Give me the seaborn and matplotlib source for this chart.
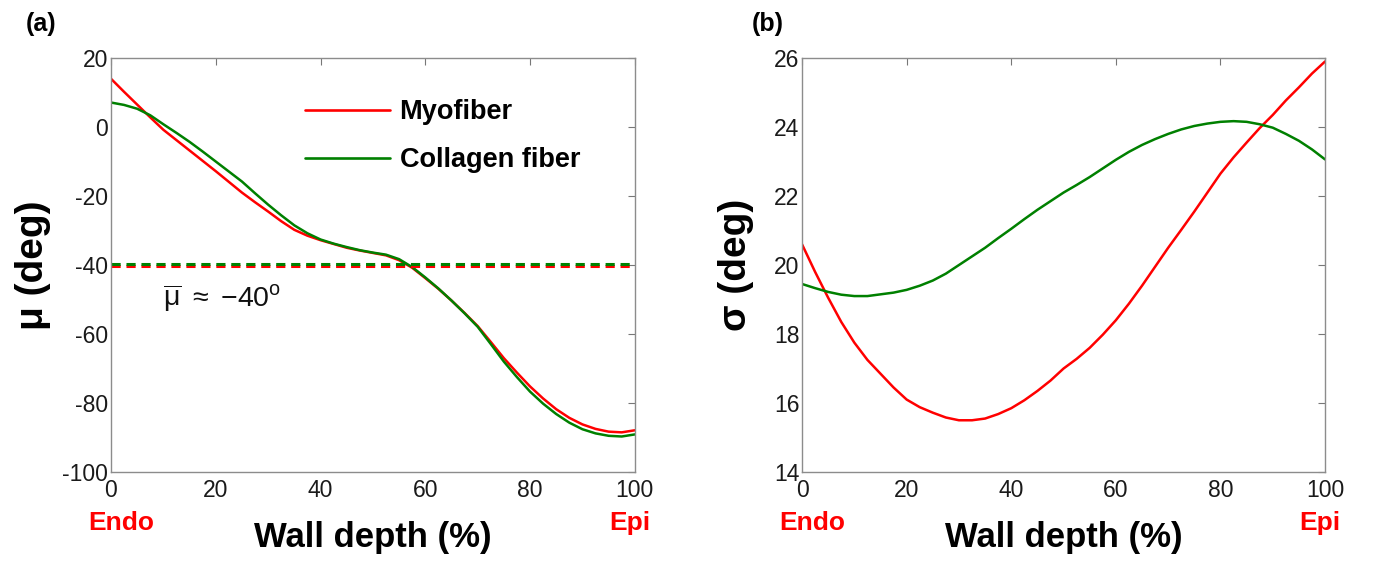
import numpy as np
import pandas as pd
import seaborn as sns
import matplotlib
matplotlib.use("Agg")
import matplotlib.pyplot as plt

# Wall depth (%) from endocardium (0) to epicardium (100)
depth = [0, 2.5, 5, 7.5, 10, 12.5, 15, 17.5, 20, 22.5, 25, 27.5, 30, 32.5, 35, 37.5, 40, 42.5, 45, 47.5,
         50, 52.5, 55, 57.5, 60, 62.5, 65, 67.5, 70, 72.5, 75, 77.5, 80, 82.5, 85, 87.5, 90, 92.5, 95,
         97.5, 100]

# Mean fiber angle mu (deg)
mu_myofiber = [14.0, 10.2, 6.5, 2.8, -0.8, -3.8, -6.8, -9.8, -12.8, -15.9, -19.0, -21.8, -24.5, -27.3,
               -29.8, -31.5, -32.8, -33.9, -35.0, -35.8, -36.5, -37.2, -38.6, -40.8, -43.8, -46.9, -50.3,
               -53.9, -57.7, -62.3, -67.0, -71.2, -75.2, -78.7, -81.8, -84.3, -86.2, -87.5, -88.3, -88.5,
               -87.9]
mu_collagen = [7.1, 6.4, 5.3, 3.4, 0.8, -1.7, -4.3, -7.1, -10.0, -12.9, -15.8, -19.2, -22.5, -25.6, -28.5,
               -30.8, -32.6, -33.8, -34.8, -35.7, -36.4, -37.0, -38.3, -40.6, -43.6, -46.8, -50.3, -54.0,
               -57.9, -62.9, -68.0, -72.5, -76.7, -80.2, -83.2, -85.7, -87.6, -88.8, -89.5, -89.7, -89.1]

# Dispersion sigma (deg)
sigma_myofiber = [20.6, 19.8, 19.05, 18.35, 17.75, 17.25, 16.85, 16.45, 16.1, 15.88, 15.72, 15.58, 15.5,
                  15.5, 15.55, 15.68, 15.85, 16.08, 16.35, 16.65, 17.0, 17.28, 17.6, 17.98, 18.4, 18.88,
                  19.4, 19.95, 20.5, 21.02, 21.55, 22.1, 22.65, 23.12, 23.55, 23.97, 24.35, 24.77, 25.15,
                  25.55, 25.9]
sigma_collagen = [19.45, 19.33, 19.22, 19.14, 19.1, 19.1, 19.15, 19.2, 19.28, 19.4, 19.55, 19.75, 20.0,
                  20.25, 20.5, 20.78, 21.05, 21.33, 21.6, 21.85, 22.1, 22.32, 22.55, 22.8, 23.05, 23.28,
                  23.48, 23.65, 23.8, 23.93, 24.03, 24.1, 24.15, 24.17, 24.15, 24.08, 23.98, 23.8, 23.6,
                  23.35, 23.06]

# Transmural averages of mu
mu_mean_myofiber = -40.3
mu_mean_collagen = -39.7

series_names = ["Myofiber", "Collagen fiber"]
palette = {"Myofiber": "#ff0000", "Collagen fiber": "#008000"}
n = len(depth)

mu_df = pd.DataFrame({
    "depth": depth * 2,
    "value": mu_myofiber + mu_collagen,
    "fiber": [series_names[0]] * n + [series_names[1]] * n,
})
sigma_df = pd.DataFrame({
    "depth": depth * 2,
    "value": sigma_myofiber + sigma_collagen,
    "fiber": [series_names[0]] * n + [series_names[1]] * n,
})

sns.set_theme(style="white")
plt.rcParams["font.family"] = ["Liberation Sans", "DejaVu Sans"]
plt.rcParams["mathtext.fontset"] = "custom"
plt.rcParams["mathtext.rm"] = "Liberation Sans"
plt.rcParams["mathtext.it"] = "Liberation Sans:italic"
plt.rcParams["axes.unicode_minus"] = False
plt.rcParams["text.color"] = "black"
plt.rcParams["axes.labelcolor"] = "black"

fig = plt.figure(figsize=(13.75, 5.61), dpi=100)
ax1 = fig.add_axes([0.0807, 0.1586, 0.381, 0.738])
ax2 = fig.add_axes([0.5833, 0.1586, 0.3804, 0.738])

sns.lineplot(data=mu_df, x="depth", y="value", hue="fiber", palette=palette,
             linewidth=1.8, ax=ax1, sort=True)
sns.lineplot(data=sigma_df, x="depth", y="value", hue="fiber", palette=palette,
             linewidth=1.8, ax=ax2, sort=True, legend=False)

ax1.axhline(mu_mean_myofiber, color=palette["Myofiber"], lw=2.2, ls=(0, (3.0, 1.9)))
ax1.axhline(mu_mean_collagen, color=palette["Collagen fiber"], lw=2.2, ls=(0, (3.0, 1.9)))

ax1.set_xlim(0, 100)
ax1.set_ylim(-100, 20)
ax1.set_yticks(np.arange(-100, 21, 20))
ax2.set_xlim(0, 100)
ax2.set_ylim(14, 26)
ax2.set_yticks(np.arange(14, 27, 2))

for ax in (ax1, ax2):
    ax.set_xticks(np.arange(0, 101, 20))
    ax.tick_params(direction="in", length=5, width=0.8, color="#777777",
                   top=True, right=True, labelsize=16.5, labelcolor="#1a1a1a")
    ax.tick_params(axis="x", pad=5)
    ax.tick_params(axis="y", pad=2)
    for s in ax.spines.values():
        s.set_color("#8c8c8c")
        s.set_linewidth(1.0)
    ax.set_xlabel("Wall depth (%)", fontsize=25, fontweight="bold", labelpad=14)
    ax.text(0.02, -0.122, "Endo", transform=ax.transAxes, color="#ff0000",
            fontsize=19, fontweight="bold", ha="center", va="center")
    ax.text(0.99, -0.122, "Epi", transform=ax.transAxes, color="#ff0000",
            fontsize=19, fontweight="bold", ha="center", va="center")

ax1.set_ylabel("μ (deg)", fontsize=28, fontweight="bold", labelpad=8)
ax2.set_ylabel("σ (deg)", fontsize=28, fontweight="bold", labelpad=14)

ax1.text(10, -49.5, r"$\overline{\mathrm{\mu}}\ \approx\ \mathrm{-40^{o}}$", fontsize=20.5,
         ha="left", va="center", color="#111111")

leg = ax1.legend(loc="upper left", bbox_to_anchor=(0.37, 0.9), frameon=False,
                 prop={"weight": "bold", "size": 19.5}, borderpad=0, borderaxespad=0,
                 handlelength=3.15, handletextpad=0.35, labelspacing=0.8)
for line in leg.get_lines():
    line.set_linewidth(1.9)

fig.text(0.019, 0.957, "(a)", fontsize=18, fontweight="bold", ha="left", va="center")
fig.text(0.547, 0.957, "(b)", fontsize=18, fontweight="bold", ha="left", va="center")

fig.savefig("out.png", dpi=100, facecolor="white")
